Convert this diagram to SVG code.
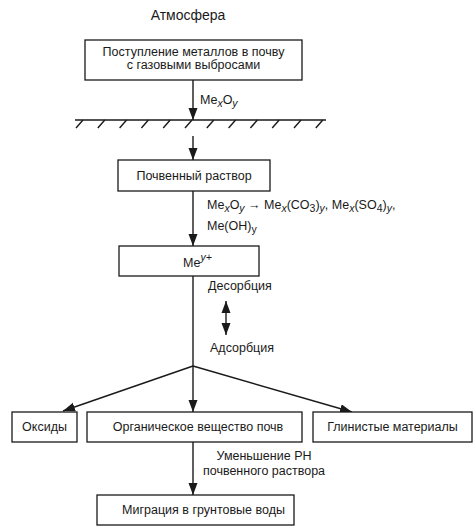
<svg xmlns="http://www.w3.org/2000/svg" width="474" height="527" viewBox="0 0 474 527">
<style>
text{font-family:"Liberation Sans",Arial,sans-serif;font-size:12.5px;fill:#1a1a1a}
.box{fill:#fff;stroke:#1a1a1a;stroke-width:1.3}
.ln{stroke:#1a1a1a;stroke-width:1.4;fill:none}
.ar{marker-end:url(#ah)}
.sub{font-size:10.5px}
.it{font-style:italic}
</style>
<defs>
<marker id="ah" markerUnits="userSpaceOnUse" markerWidth="12" markerHeight="10" refX="12" refY="4.5" orient="auto">
<path d="M0,0 L12,4.5 L0,9 z" fill="#1a1a1a"/>
</marker>
<marker id="ahs" markerUnits="userSpaceOnUse" markerWidth="12" markerHeight="10" refX="0" refY="4.5" orient="auto">
<path d="M12,0 L0,4.5 L12,9 z" fill="#1a1a1a"/>
</marker>
</defs>

<text x="188" y="20" text-anchor="middle" style="font-size:14px">Атмосфера</text>

<g id="ground">
<line class="ln" x1="75" y1="120" x2="326" y2="120"/>
<path class="ln" stroke-width="1.2" d="M83,120 l-7,8 M104.8,120 l-7,8 M126.6,120 l-7,8 M148.4,120 l-7,8 M170.2,120 l-7,8 M192,120 l-7,8 M213.8,120 l-7,8 M235.6,120 l-7,8 M257.4,120 l-7,8 M279.2,120 l-7,8 M301,120 l-7,8 M322.8,120 l-7,8"/>
</g>

<g id="connectors">
<line class="ln ar" x1="193" y1="80" x2="193" y2="120"/>
<line class="ln ar" x1="193" y1="136" x2="193" y2="160"/>
<line class="ln ar" x1="193" y1="191" x2="193" y2="246"/>
<line class="ln" x1="193" y1="276" x2="193" y2="366"/>
<line class="ln ar" x1="193" y1="366" x2="63" y2="411"/>
<line class="ln ar" x1="193" y1="366" x2="193" y2="412"/>
<line class="ln ar" x1="193" y1="366" x2="352" y2="412"/>
<line class="ln ar" x1="193" y1="442" x2="193" y2="495"/>
<line class="ln" x1="226" y1="301" x2="226" y2="335" marker-start="url(#ahs)" marker-end="url(#ah)"/>
</g>

<g id="labels">
<text x="200" y="104">Me<tspan class="sub it" dy="3">x</tspan><tspan dy="-3">O</tspan><tspan class="sub it" dy="3">y</tspan></text>
<text x="207" y="209">Me<tspan class="sub it" dy="3">x</tspan><tspan dy="-3">O</tspan><tspan class="sub it" dy="3">y</tspan><tspan dy="-3"> → Me</tspan><tspan class="sub it" dy="3">x</tspan><tspan dy="-3">(CO</tspan><tspan class="sub" dy="3">3</tspan><tspan dy="-3">)</tspan><tspan class="sub it" dy="3">y</tspan><tspan dy="-3">, Me</tspan><tspan class="sub it" dy="3">x</tspan><tspan dy="-3">(SO</tspan><tspan class="sub" dy="3">4</tspan><tspan dy="-3">)</tspan><tspan class="sub it" dy="3">y</tspan><tspan dy="-3">,</tspan></text>
<text x="207" y="230">Me(OH)<tspan class="sub" dy="3">y</tspan></text>
<text x="240" y="290" text-anchor="middle">Десорбция</text>
<text x="242" y="352" text-anchor="middle">Адсорбция</text>
<text x="264" y="460" text-anchor="middle">Уменьшение PH</text>
<text x="264" y="475" text-anchor="middle">почвенного раствора</text>
</g>

<g id="n1">
<rect class="box" x="85" y="40" width="217" height="40"/>
<text x="193.5" y="56" text-anchor="middle">Поступление металлов в почву</text>
<text x="193.5" y="69" text-anchor="middle">с газовыми выбросами</text>
</g>
<g id="n2">
<rect class="box" x="118" y="160" width="152" height="31"/>
<text x="194" y="180" text-anchor="middle">Почвенный раствор</text>
</g>
<g id="n3">
<rect class="box" x="119" y="246" width="140" height="30"/>
<text x="183" y="267">Me<tspan class="sub it" dy="-6">y+</tspan></text>
</g>
<g id="n4">
<rect class="box" x="12" y="412" width="65" height="30"/>
<text x="44.5" y="431" text-anchor="middle">Оксиды</text>
</g>
<g id="n5">
<rect class="box" x="87" y="412" width="215" height="30"/>
<text x="198" y="431" text-anchor="middle">Органическое вещество почв</text>
</g>
<g id="n6">
<rect class="box" x="313" y="412" width="159" height="30"/>
<text x="392.5" y="431" text-anchor="middle">Глинистые материалы</text>
</g>
<g id="n7">
<rect class="box" x="97" y="495" width="197" height="30"/>
<text x="203.5" y="514" text-anchor="middle">Миграция в грунтовые воды</text>
</g>
</svg>
